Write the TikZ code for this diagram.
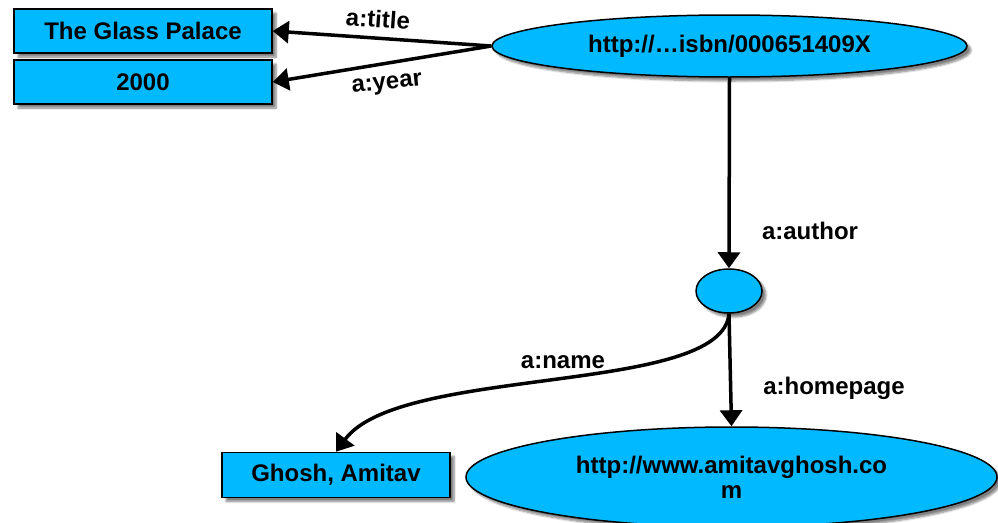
\documentclass[tikz,border=0pt]{standalone}
\usepackage{fontspec}
\setmainfont{Liberation Sans}
\usetikzlibrary{arrows.meta,shapes.geometric,shadows.blur}
\definecolor{nodeblue}{RGB}{0,185,255}
\begin{document}
\begin{tikzpicture}[x=1pt,y=-1pt,
  every node/.style={font=\fontsize{24}{25}\selectfont\bfseries},
  shadowed/.style={blur shadow={shadow xshift=4pt,shadow yshift=-4pt,shadow blur steps=6,shadow opacity=50}},
  lit/.style={draw=black,line width=1.5pt,fill=nodeblue,rectangle,inner sep=0pt,shadowed},
  res/.style={draw=black,line width=1.5pt,fill=nodeblue,ellipse,inner sep=0pt,shadowed},
  link/.style={-{Triangle[length=16pt,width=22pt]},line width=3.5pt},
  lab/.style={inner sep=0pt}]
\useasboundingbox (0,0) rectangle (998,522);
\node[lit,minimum width=258pt,minimum height=44pt] (title) at (143,31) {The Glass Palace};
\node[lit,minimum width=258pt,minimum height=44pt] (year) at (143,82) {2000};
\node[res,minimum width=475pt,minimum height=62pt] (book) at (729.5,46) {http://…isbn/000651409X};
\node[res,minimum width=66pt,minimum height=44pt] (author) at (729,291) {};
\node[lit,minimum width=228pt,minimum height=45pt] (name) at (336,475) {Ghosh, Amitav};
\node[res,minimum width=531pt,minimum height=100pt,align=center] (home) at (731.5,477) {http://www.amitavghosh.co\\m};
\draw[link] (book.west) -- (title.east);
\draw[link] (book.west) -- (year.east);
\draw[link] (book.south) -- (author.north);
\draw[link] (author.south) -- (home.north);
\draw[link] (author.south) .. controls +(-7,82) and +(64,-87) .. (name.north);
\node[lab,rotate=-4] (ltitle) at (378,19) {a:title};
\node[lab,rotate=6] (lyear) at (387,85) {a:year};
\node[lab] (lauthor) at (810,231) {a:author};
\node[lab] (lhome) at (834,388) {a:homepage};
\node[lab] (lname) at (563,362) {a:name};
\end{tikzpicture}
\end{document}
